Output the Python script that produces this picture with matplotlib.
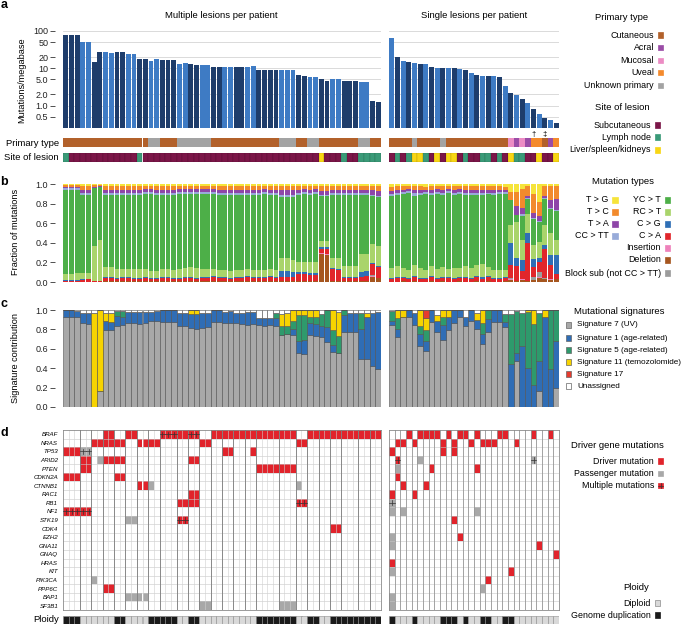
import numpy as np
import matplotlib
matplotlib.use("Agg")
import matplotlib.pyplot as plt
from matplotlib.patches import Rectangle
from matplotlib.ticker import NullLocator

plt.rcParams['font.family'] = ['Liberation Sans', 'DejaVu Sans']

W, H = 685, 625
N_LEFT = 56   # samples from patients with several lesions; the other 30 are single lesions

# --- a: mutations per megabase ---
tmb = [80, 80, 80, 52, 52, 15, 27, 28, 26, 27, 27, 24, 24, 17.5, 17.5, 16, 17.5, 16.5, 16.5, 16.5,
       13, 13.5, 12.8, 12.5, 12, 12, 11, 11, 11, 11, 11, 11, 11, 11.2, 9, 9, 9, 9, 9.2, 9,
       9, 6.5, 6.3, 5.8, 5.8, 5.3, 4.7, 5.3, 5.2, 4.6, 4.6, 4.6, 4.4, 4.4, 1.3, 1.25,
       64, 19.8, 15.5, 14.9, 13.7, 13.2, 12.7, 10.6, 10.2, 10.2, 10.0, 10.0, 9.6, 9.2, 7.5, 6.5, 6.4, 6.4, 6.1, 5.9,
       3.4, 2.2, 1.9, 1.5, 1.2, 0.80, 0.58, 0.45, 0.41, 0.34]
patient_sizes_left = [3, 2, 2, 2, 2, 2, 2, 2, 3, 2, 2, 2, 2, 2, 2, 2, 4, 3, 2, 2, 2, 2, 3, 2, 2]
a_ticks = [100, 50, 20, 10, 5, 2, 1, 0.5]
a_tick_labels = ['100', '50', '20', '10', '5.0', '2.0', '1.0', '0.5']

# primary type (C cutaneous, A acral, M mucosal, V uveal, U unknown) as runs
primary_runs = [('C', 15), ('U', 2), ('C', 3), ('U', 6), ('C', 12), ('U', 3), ('C', 2), ('U', 2),
                ('C', 7), ('U', 2), ('C', 2),
                ('C', 4), ('U', 1), ('C', 4), ('U', 1), ('C', 11), ('M', 1), ('A', 1), ('M', 1),
                ('A', 1), ('V', 2), ('C', 1), ('A', 1), ('V', 1)]
# site of lesion (S subcutaneous, L lymph node, O liver/spleen/kidneys)
site_runs = [('L', 1), ('S', 12), ('L', 1), ('S', 31), ('O', 1), ('S', 3), ('L', 1), ('S', 2), ('L', 4),
             ('S', 1), ('L', 1), ('S', 1), ('L', 1), ('O', 2), ('L', 1), ('S', 1), ('O', 1), ('S', 1),
             ('O', 2), ('S', 1), ('L', 1), ('S', 2), ('L', 2), ('S', 1), ('L', 1), ('S', 1), ('O', 1),
             ('L', 2), ('S', 2), ('O', 1), ('S', 2), ('O', 1)]

# --- b: mutation type fractions (left 56 then right 30) ---
mt_del = [.005, .005, .005, .005, .005, .005, .005, .01,
          .01, .01, .01, .01, .01, .01, .01, .01,
          .01, .01, .01, .01, .01, .01, .01, .01,
          .01, .01, .01, .01, .01, .01, .01, .01,
          .01, .01, .01, .01, .01, .01, .01, .01,
          .01, .01, .01, .01, .01, .29, .28, .01,
          .01, .01, .01, .01, .01, .01, .05, .04,
          .005, .005, .01, .005, .01, .005, .005, .01,
          .005, .01, .005, .005, .01, .005, .005, .01,
          .005, .01, .005, .005, .01, .02, .01, .02,
          .01, .02, .04, .03, .02, .03]
mt_ins = [0, 0, 0, 0, 0, 0, 0, 0,
          0, 0, 0, 0, 0, 0, 0, 0,
          0, 0, 0, 0, 0, 0, 0, 0,
          0, 0, 0, 0, 0, 0, 0, 0,
          0, 0, 0, 0, 0, 0, 0, 0,
          0, 0, 0, 0, 0, .01, .01, 0,
          0, 0, 0, 0, 0, 0, .01, 0,
          0, 0, 0, 0, 0, 0, 0, 0,
          0, 0, 0, 0, 0, 0, 0, 0,
          0, 0, 0, 0, 0, .01, 0, .01,
          0, 0, .01, 0, .01, 0]
mt_blk = [0, 0, 0, 0, 0, 0, 0, 0,
          0, 0, 0, 0, 0, 0, 0, 0,
          0, 0, 0, 0, 0, 0, 0, 0,
          0, 0, 0, 0, 0, 0, 0, 0,
          0, 0, 0, 0, 0, 0, 0, 0,
          0, 0, 0, 0, 0, 0, 0, 0,
          0, 0, 0, 0, 0, 0, .01, 0,
          0, 0, 0, 0, 0, 0, 0, 0,
          0, 0, 0, 0, 0, 0, 0, 0,
          0, 0, 0, 0, 0, .01, 0, 0,
          0, .03, .05, .01, 0, 0]
mt_ca = [.01, .01, .01, .02, .025, .005, .005, .03,
         .03, .02, .03, .03, .02, .02, .03, .02,
         .02, .03, .03, .02, .02, .03, .03, .02,
         .03, .03, .04, .03, .03, .02, .03, .03,
         .04, .03, .03, .03, .04, .03, .04, .04,
         .04, .07, .07, .06, .06, .04, .05, .12,
         .11, .03, .03, .03, .04, .05, .12, .11,
         .03, .04, .03, .03, .04, .03, .03, .04,
         .03, .03, .04, .03, .03, .04, .03, .04,
         .03, .04, .03, .03, .03, .14, .15, .08,
         .40, .10, .10, .30, .15, .05]
mt_cg = [.005, .005, .005, .005, .005, 0, 0, .01,
         .01, .01, .01, .01, .01, .01, .01, .01,
         .01, .01, .01, .01, .01, .01, .01, .01,
         .01, .01, .01, .01, .01, .01, .01, .01,
         .01, .01, .01, .01, .01, .01, .06, .06,
         .05, .02, .02, .02, .02, .02, .02, .01,
         .01, .01, .01, .01, .05, .05, .01, .01,
         .01, .01, .01, .01, .01, .01, .01, .01,
         .01, .01, .01, .01, .01, .01, .01, .01,
         .02, .01, .01, .01, .01, .22, .09, .12,
         .10, .09, .05, .05, .10, .20]
mt_rc = [.06, .06, .07, .06, .06, .36, .42, .10,
         .10, .09, .08, .08, .09, .09, .08, .07,
         .07, .08, .08, .08, .09, .09, .10, .10,
         .08, .08, .07, .07, .07, .07, .07, .07,
         .07, .07, .07, .07, .07, .07, .13, .13,
         .12, .11, .10, .11, .11, .06, .06, .11,
         .11, .11, .11, .11, .18, .17, .20, .21,
         .10, .11, .09, .08, .12, .10, .08, .10,
         .09, .10, .08, .10, .09, .11, .10, .12,
         .13, .10, .08, .08, .07, .19, .36, .20,
         .20, .14, .16, .20, .23, .15]
mt_yc = [.86, .86, .85, .80, .79, .59, .54, .74,
         .74, .76, .77, .77, .77, .77, .78, .80,
         .79, .76, .76, .77, .77, .76, .75, .76,
         .77, .77, .78, .78, .78, .79, .78, .78,
         .77, .78, .77, .78, .77, .78, .63, .63,
         .64, .69, .70, .69, .70, .46, .47, .64,
         .65, .73, .73, .73, .60, .60, .50, .50,
         .74, .73, .76, .79, .72, .75, .78, .74,
         .77, .75, .78, .75, .77, .74, .76, .73,
         .72, .76, .78, .79, .80, .25, .07, .25,
         .15, .27, .20, .27, .25, .30]
mt_cc = [.015, .015, .015, .02, .02, 0, 0, .02,
         .02, .02, .02, .02, .02, .02, .02, .02,
         .02, .02, .02, .02, .02, .02, .02, .02,
         .02, .02, .02, .02, .02, .02, .02, .02,
         .02, .02, .02, .02, .02, .02, .02, .02,
         .02, .02, .02, .02, .02, .01, .01, .02,
         .02, .02, .02, .02, .02, .02, .01, .01,
         .02, .02, .02, .02, .03, .02, .02, .02,
         .02, .02, .02, .02, .02, .02, .02, .03,
         .02, .02, .02, .02, .02, 0, 0, .02,
         .01, .01, .01, .01, .01, .01]
mt_ta = [.015, .015, .015, .03, .03, .01, .01, .03,
         .03, .03, .03, .03, .03, .03, .03, .03,
         .03, .03, .03, .03, .03, .03, .03, .03,
         .03, .03, .03, .03, .03, .03, .03, .03,
         .03, .03, .03, .03, .03, .03, .05, .05,
         .05, .03, .03, .03, .03, .04, .04, .03,
         .03, .03, .03, .03, .03, .03, .05, .05,
         .03, .03, .02, .02, .03, .03, .02, .03,
         .03, .03, .02, .03, .03, .03, .03, .03,
         .03, .03, .03, .02, .02, 0, .10, .06,
         .03, .05, .05, .03, .08, .12]
mt_tc = [.02, .02, .02, .04, .04, .02, .01, .04,
         .04, .04, .04, .04, .04, .04, .03, .03,
         .04, .04, .04, .04, .03, .03, .03, .03,
         .03, .03, .03, .04, .04, .04, .04, .04,
         .04, .04, .04, .03, .04, .04, .04, .04,
         .04, .04, .03, .04, .03, .05, .05, .04,
         .04, .04, .04, .04, .04, .04, .04, .05,
         .04, .04, .04, .03, .04, .04, .03, .04,
         .03, .04, .03, .04, .03, .04, .04, .04,
         .04, .04, .04, .04, .03, .09, .14, .20,
         .10, .20, .15, .10, .15, .13]
mt_tg = [.01, .01, .01, .02, .02, .01, .01, .02,
         .02, .02, .02, .02, .02, .02, .02, .02,
         .02, .02, .02, .02, .02, .02, .02, .02,
         .02, .02, .02, .02, .02, .02, .02, .02,
         .02, .02, .02, .02, .02, .02, .02, .02,
         .02, .02, .02, .02, .02, .02, .02, .02,
         .02, .02, .02, .02, .02, .02, .02, .02,
         .03, .02, .02, .02, .02, .02, .03, .02,
         .02, .02, .02, .02, .02, .02, .02, .02,
         .02, .02, .02, .02, .03, .08, .08, .05,
         .02, .10, .18, .02, .02, .02]

# --- c: signature contributions ---
sig7 = [.93, .93, .93, .87, .86, 0, .17, .79,
        .79, .84, .85, .87, .87, .86, .87, .89,
        .89, .88, .88, .88, .84, .83, .81, .80,
        .81, .82, .88, .88, .87, .87, .87, .86,
        .85, .86, .85, .84, .85, .84, .74, .75,
        .74, .56, .55, .74, .73, .72, .67, .57,
        .56, .77, .77, .77, .49, .49, .42, .39,
        .85, .72, .93, .93, .85, .63, .58, .88,
        .77, .69, .79, .87, .93, .84, .89, .80,
        .65, .77, .88, .88, .82, 0, .47, 0,
        0, 0, .16, 0, 0, .20]
sig1 = [.07, .07, .06, .10, .11, 0, 0, .10,
        .09, .10, .08, .11, .11, .12, .11, .09,
        .10, .12, .12, .12, .13, .14, .15, .16,
        .16, .15, .12, .12, .11, .12, .10, .11,
        .13, .12, .07, .08, .07, .08, 0, 0,
        .06, .12, .14, .13, .13, .12, .15, .07,
        0, .18, .20, .20, .31, .44, .55, .59,
        .04, .08, 0, .07, .12, .12, .10, .12,
        .12, .16, .14, .13, .07, .09, .11, .10,
        .10, .14, .12, .12, .06, .44, .09, .63,
        .40, .23, .31, .93, .39, .48]
sig5 = [0, 0, 0, 0, 0, 0, 0, 0,
        0, .05, .06, 0, 0, 0, 0, 0,
        0, 0, 0, 0, 0, 0, 0, 0,
        0, 0, 0, 0, 0, 0, 0, 0,
        0, 0, 0, 0, 0, .05, .10, .09,
        .09, .27, .26, .06, .07, .12, .18, .15,
        .17, .05, 0, 0, .17, 0, 0, 0,
        .10, .12, 0, 0, 0, .08, .11, 0,
        0, .08, 0, 0, 0, 0, 0, 0,
        .12, .09, 0, 0, .08, .52, .43, .34,
        .58, .63, .50, 0, .61, .32]
sig11 = [0, 0, 0, 0, 0, .97, .83, .08,
         .09, 0, 0, 0, 0, 0, 0, 0,
         0, 0, 0, 0, 0, 0, .04, .04,
         0, 0, 0, 0, 0, 0, 0, 0,
         0, 0, 0, 0, 0, 0, .12, .13,
         .11, .05, .05, .07, .07, 0, 0, .21,
         .25, 0, 0, 0, 0, .04, 0, 0,
         0, .08, .07, 0, 0, .17, .13, 0,
         .06, .07, .07, 0, 0, 0, 0, .07,
         .13, 0, 0, 0, 0, 0, 0, 0,
         .02, .14, 0, .07, 0, 0]
sig17 = [0, 0, 0, 0, 0, 0, 0, 0,
         0, 0, 0, 0, 0, 0, 0, 0,
         0, 0, 0, 0, 0, 0, 0, 0,
         0, 0, 0, 0, 0, 0, 0, 0,
         0, 0, 0, 0, 0, 0, 0, 0,
         0, 0, 0, 0, 0, 0, 0, 0,
         0, 0, 0, 0, 0, 0, 0, 0,
         0, 0, 0, 0, 0, 0, .08, 0,
         0, 0, 0, 0, 0, 0, 0, 0,
         0, 0, 0, 0, 0, 0, 0, 0,
         0, 0, 0, 0, 0, 0]
unassigned = [0, 0, .01, .03, .03, .03, 0, .03,
              .03, .01, .01, .02, .02, .02, .02, .02,
              .01, 0, 0, 0, .03, .03, 0, 0,
              .03, .03, 0, 0, .02, .01, .03, .03,
              .02, .02, .08, .08, .08, .03, .04, .03,
              0, 0, 0, 0, 0, .04, 0, 0,
              .02, 0, .03, .03, .03, .03, .03, .02,
              .01, 0, 0, 0, .03, 0, 0, 0,
              .05, 0, 0, 0, 0, .07, 0, .03,
              0, 0, 0, 0, .04, .04, .01, .03,
              0, 0, .03, 0, 0, 0]

# --- d: driver genes (sample indices 0-55 left, 56-85 right) ---
genes = ['BRAF', 'NRAS', 'TP53', 'ARID2', 'PTEN', 'CDKN2A', 'CTNNB1', 'RAC1', 'RB1', 'NF1', 'STK19',
         'CDK4', 'EZH2', 'GNA11', 'GNAQ', 'HRAS', 'KIT', 'PIK3CA', 'PPP6C', 'BAP1', 'SF3B1']
driver_cells = [
    [7, 8, 11, 12, 20, 21, 26, 27, 28, 29, 30, 31, 32, 33, 34, 35, 36, 37, 38, 39, 40,
     43, 44, 45, 46, 47, 48, 49, 50, 51, 52, 53, 54, 55,
     59, 61, 62, 63, 64, 66, 68, 69, 71, 75, 76, 81, 84],
    [5, 6, 7, 8, 9, 10, 13, 14, 15, 16, 24, 25, 41, 42, 57, 58, 60, 65, 67, 70, 72, 73, 74, 78],
    [0, 1, 2, 28, 29, 33, 56, 65, 67],
    [3, 4, 7, 8, 9, 10, 22, 23],
    [3, 4, 34, 35, 36, 37, 38, 39, 40, 63, 71],
    [0, 1, 2, 9, 10, 57],
    [13, 14, 58, 62],
    [22, 23, 56, 60],
    [20, 21, 22, 23],
    [],
    [67],
    [47, 48],
    [68],
    [82],
    [85],
    [56],
    [77],
    [73],
    [7, 8],
    [],
    [],
]
passenger_cells = [[], [], [], [6, 61], [57], [], [15, 41], [], [], [56, 58, 71], [11, 12], [],
                   [56], [56], [], [], [56], [5], [72], [11, 12, 13, 14, 56], [24, 25, 38, 39, 40, 56]]
multi_driver_cells = [[17, 18, 19, 22, 23], [], [], [57], [], [], [], [], [41, 42], [0, 1, 2, 3, 4],
                      [20, 21], [], [], [], [], [], [], [], [], [], []]
multi_passenger_cells = [[], [], [3, 4], [81], [], [], [], [], [56], [], [], [], [], [], [], [], [],
                         [], [], [], []]
ploidy_runs = [('G', 3), ('D', 6), ('G', 2), ('D', 4), ('G', 5), ('D', 2), ('G', 2), ('D', 10), ('G', 7),
               ('D', 2), ('G', 2), ('D', 2), ('G', 9),
               ('G', 1), ('D', 3), ('G', 1), ('D', 4), ('G', 3), ('D', 1), ('G', 1), ('D', 2), ('G', 2),
               ('D', 2), ('G', 2), ('D', 8)]


def expand(runs):
    return [c for c, n in runs for _ in range(n)]


primary = expand(primary_runs)
site = expand(site_runs)
ploidy = expand(ploidy_runs)

# --- colours ---
DARK_BLUE, LIGHT_BLUE = '#1e3d6b', '#3e7bc4'
primary_colors = {'C': '#b2612b', 'A': '#9a4ca6', 'M': '#ec8cc4', 'V': '#f48a2c', 'U': '#a3a3a3'}
site_colors = {'S': '#7b1648', 'L': '#3a9a78', 'O': '#f8d614'}
mt_colors = ['#a6561f', '#ee82bb', '#9c9c9c', '#e1262b', '#2f6fb6', '#a9d46b', '#4daf48',
             '#98abd9', '#8e46a8', '#f28a2c', '#f6e43a']
sig_colors = ['#a8a8a8', '#2f6db5', '#2e9a6c', '#f7d300', '#e63b2e', 'white']
RED, GREY = '#e1232b', '#a8a8a8'

fig = plt.figure(figsize=(W / 100, H / 100), dpi=100)


def pax(x0, y0, x1, y1):
    return fig.add_axes([x0 / W, 1 - y1 / H, (x1 - x0) / W, (y1 - y0) / H])


sides = [(63, 381, 0, N_LEFT), (389, 559, N_LEFT, 86)]


def style_left(ax):
    for s in ax.spines.values():
        s.set_visible(False)
    ax.spines['left'].set_position(('outward', 5.5))
    ax.tick_params(axis='y', labelsize=6.5, length=3.6, width=0.6, pad=1.5, color='#333333',
                   labelcolor='#222222')
    ax.set_xticks([])


def style_plain(ax):
    for s in ax.spines.values():
        s.set_visible(False)
    ax.set_xticks([])
    ax.set_yticks([])


# bar colours for panel a: alternate per patient
tmb_colors = []
for p, n in enumerate(patient_sizes_left):
    tmb_colors += [DARK_BLUE if p % 2 == 0 else LIGHT_BLUE] * n
for k in range(86 - N_LEFT):
    tmb_colors.append(LIGHT_BLUE if k % 2 == 0 else DARK_BLUE)

patient_edges = np.cumsum(patient_sizes_left)[:-1] - 0.5

mt_stack = np.array([mt_del, mt_ins, mt_blk, mt_ca, mt_cg, mt_rc, mt_yc, mt_cc, mt_ta, mt_tc, mt_tg], float)
mt_stack = mt_stack / mt_stack.sum(axis=0)
sig_stack = np.array([sig7, sig1, sig5, sig11, sig17, unassigned], float)

for x0, x1, lo, hi in sides:
    n = hi - lo
    idx = np.arange(n)

    # a
    ax = pax(x0, 31, x1, 128)
    ax.set_yscale('log')
    ax.bar(idx, tmb[lo:hi], width=0.86, color=tmb_colors[lo:hi], zorder=2)
    ax.set_xlim(-0.5, n - 0.5)
    ax.set_ylim(0.25, 100)
    ax.set_yticks(a_ticks)
    ax.yaxis.set_minor_locator(NullLocator())
    ax.grid(axis='y', color='#d5d5d5', lw=0.6, zorder=0)
    if lo == 0:
        style_left(ax)
        ax.set_yticklabels(a_tick_labels)
    else:
        style_plain(ax)
        ax.set_yticks(a_ticks)
        ax.yaxis.set_minor_locator(NullLocator())
        ax.tick_params(axis='y', length=0, labelleft=False)

    # primary type / site of lesion strips
    ax = pax(x0, 138, x1, 147)
    ax.bar(idx, 1, width=1, color=[primary_colors[c] for c in primary[lo:hi]], lw=0)
    ax.set_xlim(-0.5, n - 0.5)
    ax.set_ylim(0, 1)
    style_plain(ax)
    if lo != 0:
        ax.text(25, 1.05, '\u2020', transform=ax.get_xaxis_transform(), ha='center', va='bottom',
                fontsize=5.5)
        ax.text(27, 1.05, '\u2021', transform=ax.get_xaxis_transform(), ha='center', va='bottom',
                fontsize=5.5)
    ax = pax(x0, 153, x1, 162)
    ax.bar(idx, 1, width=1, color=[site_colors[c] for c in site[lo:hi]],
           edgecolor=(0, 0, 0, 0.25), lw=0.3)
    ax.set_xlim(-0.5, n - 0.5)
    ax.set_ylim(0, 1)
    style_plain(ax)

    # b
    ax = pax(x0, 184, x1, 282)
    bottom = np.zeros(n)
    for k in range(mt_stack.shape[0]):
        ax.bar(idx, mt_stack[k, lo:hi], bottom=bottom, width=0.84, color=mt_colors[k], lw=0)
        bottom += mt_stack[k, lo:hi]
    ax.set_xlim(-0.5, n - 0.5)
    ax.set_ylim(0, 1.0)
    if lo == 0:
        style_left(ax)
        ax.set_yticks([0, 0.2, 0.4, 0.6, 0.8, 1.0])
        ax.set_yticklabels(['0.0', '0.2', '0.4', '0.6', '0.8', '1.0'])
    else:
        style_plain(ax)

    # c
    ax = pax(x0, 310, x1, 407)
    bottom = np.zeros(n)
    for k in range(sig_stack.shape[0]):
        ax.bar(idx, sig_stack[k, lo:hi], bottom=bottom, width=1, color=sig_colors[k],
               edgecolor='#505050', lw=0.4)
        bottom += sig_stack[k, lo:hi]
    ax.set_xlim(-0.5, n - 0.5)
    ax.set_ylim(0, 1.0)
    if lo == 0:
        style_left(ax)
        ax.set_yticks([0, 0.2, 0.4, 0.6, 0.8, 1.0])
        ax.set_yticklabels(['0.0', '0.2', '0.4', '0.6', '0.8', '1.0'])
    else:
        style_plain(ax)

    # d
    ax = pax(x0, 430, x1, 610)
    for gi in range(len(genes)):
        for cells, col in [(driver_cells[gi], RED), (passenger_cells[gi], GREY),
                           (multi_driver_cells[gi], RED), (multi_passenger_cells[gi], GREY)]:
            xs = [c - lo for c in cells if lo <= c < hi]
            if xs:
                ax.bar(xs, 1, bottom=gi, width=1, color=col, lw=0, zorder=1)
        for cells in (multi_driver_cells[gi], multi_passenger_cells[gi]):
            for c in cells:
                if lo <= c < hi:
                    ax.plot([c - lo - 0.5, c - lo + 0.5], [gi + 0.5, gi + 0.5], color='#333333',
                            lw=0.5, zorder=4)
                    ax.plot([c - lo, c - lo], [gi + 0.2, gi + 0.8], color='#333333', lw=0.5, zorder=4)
    for r in range(1, len(genes)):
        ax.axhline(r, color='#c8c8c8', lw=0.4, zorder=2)
    for v in range(1, n):
        ax.axvline(v - 0.5, color='#d0d0d0', lw=0.4, zorder=2)
    if lo == 0:
        for e in patient_edges:
            ax.axvline(e, color='#7a7a7a', lw=0.6, zorder=3)
    else:
        for v in range(1, n):
            ax.axvline(v - 0.5, color='#8a8a8a', lw=0.5, zorder=3)
    ax.set_xlim(-0.5, n - 0.5)
    ax.set_ylim(len(genes), 0)
    ax.set_xticks([])
    for s in ax.spines.values():
        s.set_color('#8a8a8a')
        s.set_linewidth(0.6)
    if lo == 0:
        ax.set_yticks(np.arange(len(genes)) + 0.5)
        ax.set_yticklabels(genes, fontsize=4.4, style='italic')
        ax.tick_params(axis='y', length=0, pad=3.5)
    else:
        ax.set_yticks([])

    # ploidy
    ax = pax(x0, 616, x1, 624)
    ax.bar(idx, 1, width=1, color=['#1a1a1a' if c == 'G' else '#d9d9d9' for c in ploidy[lo:hi]],
           edgecolor='#8c8c8c', lw=0.4)
    ax.set_xlim(-0.5, n - 0.5)
    ax.set_ylim(0, 1)
    style_plain(ax)

# --- overlay for labels and legends (pixel coordinates) ---
ov = fig.add_axes([0, 0, 1, 1])
ov.set_xlim(0, W)
ov.set_ylim(H, 0)
ov.axis('off')

for lab, (x, y) in {'a': (4, 5), 'b': (4, 182), 'c': (4, 304), 'd': (4, 433)}.items():
    ov.text(x, y, lab, fontsize=9, fontweight='bold', ha='center', va='center')

ov.text(221, 15, 'Multiple lesions per patient', fontsize=6.8, ha='center', va='center')
ov.text(474, 15, 'Single lesions per patient', fontsize=6.8, ha='center', va='center')
ov.text(22, 80, 'Mutations/megabase', fontsize=6.6, rotation=90, ha='center', va='center')
ov.text(16, 232, 'Fraction of mutations', fontsize=6.6, rotation=90, ha='center', va='center')
ov.text(16, 358, 'Signature contribution', fontsize=6.6, rotation=90, ha='center', va='center')
ov.text(59, 143, 'Primary type', fontsize=6.8, ha='right', va='center')
ov.text(59, 158, 'Site of lesion', fontsize=6.8, ha='right', va='center')
ov.text(59, 620, 'Ploidy', fontsize=6.8, ha='right', va='center')

LEG = 6.4


def square(x, y, color, size=5.2, edge=None):
    ov.add_patch(Rectangle((x, y - size / 2), size, size, facecolor=color,
                           edgecolor=edge if edge else color, lw=0.5))


def item_right(text, y, color, xs, edge=None):
    ov.text(xs - 4, y, text, fontsize=LEG, ha='right', va='center')
    square(xs, y, color, edge=edge)


ov.text(622, 17, 'Primary type', fontsize=6.8, ha='center', va='center')
for name, code, y in [('Cutaneous', 'C', 35), ('Acral', 'A', 47.7), ('Mucosal', 'M', 60.3),
                      ('Uveal', 'V', 72.7), ('Unknown primary', 'U', 85.7)]:
    item_right(name, y, primary_colors[code], 658)
ov.text(622, 107, 'Site of lesion', fontsize=6.8, ha='center', va='center')
for name, code, y in [('Subcutaneous', 'S', 125), ('Lymph node', 'L', 137), ('Liver/spleen/kidneys', 'O', 150)]:
    item_right(name, y, site_colors[code], 655)

ov.text(623, 182, 'Mutation types', fontsize=6.8, ha='center', va='center')
for name, k, y in [('T > G', 10, 200), ('T > C', 9, 212), ('T > A', 8, 224), ('CC > TT', 7, 236)]:
    item_right(name, y, mt_colors[k], 612.5)
for name, k, y in [('YC > T', 6, 200), ('RC > T', 5, 212), ('C > G', 4, 224), ('C > A', 3, 236),
                   ('Insertion', 1, 248), ('Deletion', 0, 260), ('Block sub (not CC > TT)', 2, 273)]:
    item_right(name, y, mt_colors[k], 665)

ov.text(619, 311, 'Mutational signatures', fontsize=6.8, ha='center', va='center')
for name, k, y in [('Signature 7 (UV)', 0, 325), ('Signature 1 (age-related)', 1, 338),
                   ('Signature 5 (age-related)', 2, 350), ('Signature 11 (temozolomide)', 3, 362),
                   ('Signature 17', 4, 374), ('Unassigned', 5, 386)]:
    square(566, y, sig_colors[k], edge='#666666')
    ov.text(577, y, name, fontsize=5.9, ha='left', va='center')

ov.text(617, 446, 'Driver gene mutations', fontsize=6.8, ha='center', va='center')
item_right('Driver mutation', 461, RED, 658)
item_right('Passenger mutation', 473.3, GREY, 658)
item_right('Multiple mutations', 485.7, RED, 658)
ov.plot([658, 663.2], [485.7, 485.7], color='#333333', lw=0.5)
ov.plot([660.6, 660.6], [483.4, 488], color='#333333', lw=0.5)

ov.text(636, 588, 'Ploidy', fontsize=6.8, ha='center', va='center')
item_right('Diploid', 603, '#d9d9d9', 655, edge='#8c8c8c')
item_right('Genome duplication', 615, '#1a1a1a', 655)

fig.savefig('out.png', dpi=100)
